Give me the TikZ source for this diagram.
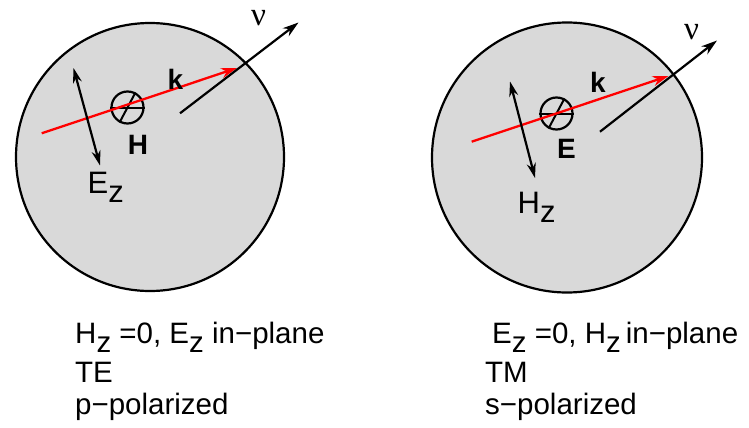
\documentclass[tikz,border=0pt]{standalone}
\usepackage{fontspec}
\setmainfont{Liberation Sans}
\newfontfamily\nufont{Liberation Serif}
\usetikzlibrary{arrows.meta}
\newcommand{\zsub}{\raisebox{-0.32em}{z}}
\tikzset{
  ballshape/.style={circle, draw=black, fill=gray!30, line width=2.2pt, inner sep=0pt},
  symshape/.style={circle, draw=black, line width=2.2pt, minimum size=32pt, inner sep=0pt},
  symline/.style={line width=2pt},
  kwave/.style={draw=red, line width=2.3pt, -{Stealth[length=16pt,width=10pt]}},
  nuarrow/.style={draw=black, line width=2.2pt, -{Stealth[length=16pt,width=10pt]}},
  polarrow/.style={draw=black, line width=2.2pt, {Stealth[length=15pt,width=9pt]}-{Stealth[length=15pt,width=9pt]}},
  biglbl/.style={inner sep=0pt, font=\fontsize{31pt}{36pt}\selectfont},
  boldlbl/.style={inner sep=0pt, font=\fontsize{28pt}{32pt}\selectfont\bfseries},
  nulbl/.style={inner sep=0pt, font=\fontsize{33pt}{36pt}\selectfont\nufont},
  undertext/.style={inner sep=0pt, anchor=base west, font=\fontsize{29.5pt}{34pt}\selectfont}
}
\begin{document}
\begin{tikzpicture}[x=1pt, y=-1pt]
\useasboundingbox (0,0) rectangle (749,428);
% ---------- left (TE) ----------
\node[ballshape, minimum size=268pt] (lc) at (150,157) {};
\node[symshape] (ls) at (127.5,107.5) {};
\draw[symline] (ls.west) -- (ls.east);
\draw[symline] (ls.242) -- (ls.62);
\coordinate (lk0) at (41.7,133.3);
\coordinate (lk1) at (237,68);
\draw[kwave] (lk0) -- (lk1);
\coordinate (ln0) at (180,113.3);
\coordinate (ln1) at (298.5,22.5);
\draw[nuarrow] (ln0) -- (ln1);
\coordinate (lp0) at (73.5,68);
\coordinate (lp1) at (100,165.5);
\draw[polarrow] (lp0) -- (lp1);
\node[nulbl] (lnu) at (258.5,18) {ν};
\node[boldlbl] (lkl) at (175.5,79) {k};
\node[boldlbl] (lH) at (138,144.5) {H};
\node[biglbl, anchor=base west] (lEz) at (87.5,193) {E\zsub};
\node[undertext] (lt1) at (75,343) {H\zsub\ =0, E\zsub\ in−plane};
\node[undertext] (lt2) at (75,382) {TE};
\node[undertext] (lt3) at (75,414) {p−polarized};
% ---------- right (TM) ----------
\node[ballshape, minimum size=270pt] (rc) at (567,157.5) {};
\node[symshape] (rs) at (556.5,113.5) {};
\draw[symline] (rs.west) -- (rs.east);
\draw[symline] (rs.242) -- (rs.62);
\coordinate (rk0) at (471.7,141.7);
\coordinate (rk1) at (668.5,76);
\draw[kwave] (rk0) -- (rk1);
\coordinate (rn0) at (600,131.7);
\coordinate (rn1) at (717,40.5);
\draw[nuarrow] (rn0) -- (rn1);
\coordinate (rp0) at (510,81.5);
\coordinate (rp1) at (535,178);
\draw[polarrow] (rp0) -- (rp1);
\node[nulbl] (rnu) at (691.5,32.5) {ν};
\node[boldlbl] (rkl) at (598,82.5) {k};
\node[boldlbl] (rE) at (566.5,148.5) {E};
\node[biglbl, anchor=base west] (rHz) at (517.5,213) {H\zsub};
\node[undertext] (rt1) at (492,343) {E\zsub\ =0, H\zsub\,in−plane};
\node[undertext] (rt2) at (485,382) {TM};
\node[undertext] (rt3) at (485,414) {s−polarized};
\end{tikzpicture}
\end{document}
